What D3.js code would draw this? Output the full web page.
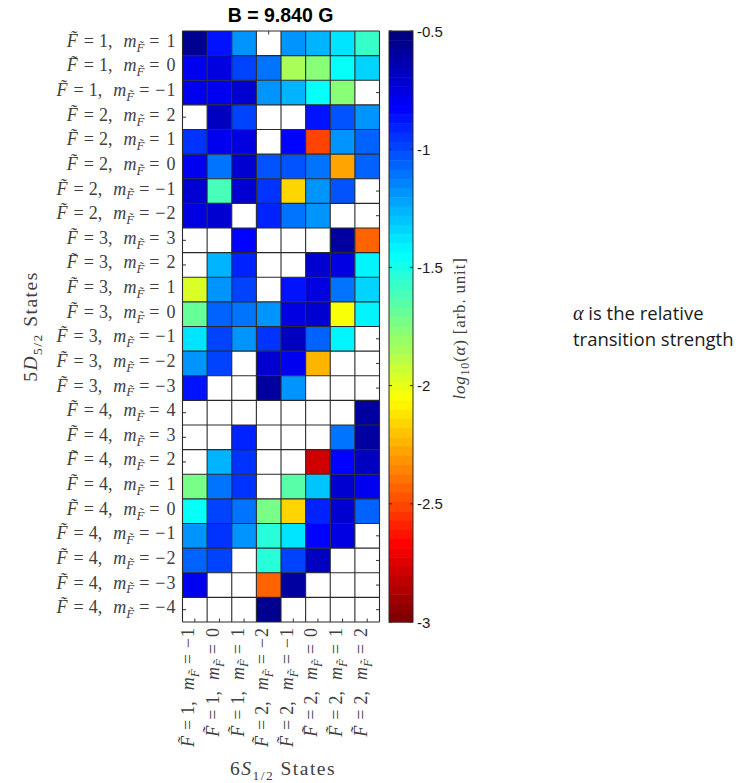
<!DOCTYPE html>
<html>
<head>
<meta charset="utf-8">
<script src="https://cdn.jsdelivr.net/npm/d3@7"></script>
<style>
  html, body { margin: 0; padding: 0; background: #fff; }
  svg { display: block; }
</style>
</head>
<body>
<svg id="chart" width="753" height="783"></svg>
<script>
// 5D5/2 (rows) and 6S1/2 (columns) hyperfine states as [F, mF]
const rowStates = [
  [1, 1], [1, 0], [1, -1],
  [2, 2], [2, 1], [2, 0], [2, -1], [2, -2],
  [3, 3], [3, 2], [3, 1], [3, 0], [3, -1], [3, -2], [3, -3],
  [4, 4], [4, 3], [4, 2], [4, 1], [4, 0], [4, -1], [4, -2], [4, -3], [4, -4]
];
const colStates = [[1, -1], [1, 0], [1, 1], [2, -2], [2, -1], [2, 0], [2, 1], [2, 2]];

// log10 of relative transition strength; null = forbidden transition (blank cell)
const log10Alpha = [
  [-0.55, -0.88, -1.20, null, -1.20, -1.27, -1.37, -1.58],
  [-0.78, -0.75, -1.00, -1.12, -1.85, -1.75, -1.44, -1.35],
  [-0.80, -0.78, -0.72, -1.18, -1.25, -1.44, -1.75, null],
  [null, -0.66, -1.00, null, null, -0.87, -1.03, -1.20],
  [-0.93, -0.78, -0.75, null, -0.84, -2.53, -1.18, -1.06],
  [-0.78, -1.12, -0.72, -1.03, -1.03, -1.12, -2.28, -1.06],
  [-0.72, -1.60, -0.72, -0.93, -2.15, -1.18, -1.03, null],
  [-0.75, -0.72, null, -0.90, -1.09, -1.20, null, null],
  [null, null, -0.84, null, null, null, -0.60, -2.44],
  [null, -1.28, -0.90, null, null, -0.72, -0.75, -1.41],
  [-1.97, -1.18, -0.97, null, -0.87, -0.75, -1.09, -1.35],
  [-1.70, -1.06, -1.09, -1.20, -0.75, -0.72, -2.05, -1.41],
  [-1.37, -1.00, -1.18, -0.93, -0.69, -1.06, -1.41, null],
  [-1.18, -1.00, null, -0.72, -0.78, -2.22, null, null],
  [-0.87, null, null, -0.60, -1.18, null, null, null],
  [null, null, null, null, null, null, null, -0.58],
  [null, null, -0.90, null, null, null, -1.12, -0.60],
  [null, -1.28, -0.93, null, null, -2.78, -0.84, -0.66],
  [-1.72, -1.09, -0.93, null, -1.66, -1.30, -0.72, -0.78],
  [-1.44, -1.00, -1.09, -1.72, -2.15, -0.90, -0.72, -1.06],
  [-1.18, -0.93, -1.18, -1.55, -1.37, -0.84, -0.75, null],
  [-1.06, -0.97, null, -1.55, -0.97, -0.66, null, null],
  [-0.78, null, null, -2.44, -0.60, null, null, null],
  [null, null, null, -0.55, null, null, null, null]
];

const colorDomain = [-0.5, -3];
const colorTicks = [-0.5, -1, -1.5, -2, -2.5, -3];
const titleText = "B = 9.840 G";
const noteLines = ["α is the relative", "transition strength"];

// ---- layout ----
const plot = { left: 182.5, right: 379.5, top: 31, bottom: 622 };
const cbar = { left: 389, right: 413 };
const serif = "'Liberation Serif', 'DejaVu Serif', serif";
const sans = "'Liberation Sans', Arial, sans-serif";
const midY = (plot.top + plot.bottom) / 2;

const svg = d3.select("#chart");

const x = d3.scaleBand().domain(d3.range(colStates.length)).range([plot.left, plot.right]).padding(0);
const y = d3.scaleBand().domain(d3.range(rowStates.length)).range([plot.top, plot.bottom]).padding(0);

// 64-level jet colormap, dark blue at -0.5 and dark red at -3
const nLevels = 64;
function jet(s) {
  const c = v => Math.max(0, Math.min(1, v));
  const r = c(1.5 - Math.abs(4 * s - 3));
  const g = c(1.5 - Math.abs(4 * s - 2));
  const b = c(1.5 - Math.abs(4 * s - 1));
  return d3.rgb(r * 255, g * 255, b * 255).formatHex();
}
const sScale = d3.scaleLinear().domain(colorDomain).range([0, 1]).clamp(true);
const color = v => {
  const idx = Math.min(nLevels - 1, Math.floor(sScale(v) * nLevels));
  return jet(idx / (nLevels - 1));
};

// ---- inward tick marks (drawn beneath the cells) ----
const tickLen = 3.5;
const ticks = svg.append("g").attr("stroke", "#333").attr("stroke-width", 1);
rowStates.forEach((_, i) => {
  const cy = y(i) + y.bandwidth() / 2;
  ticks.append("line").attr("x1", plot.left).attr("x2", plot.left + tickLen).attr("y1", cy).attr("y2", cy);
  ticks.append("line").attr("x1", plot.right - tickLen).attr("x2", plot.right).attr("y1", cy).attr("y2", cy);
});
colStates.forEach((_, j) => {
  const cx = x(j) + x.bandwidth() / 2;
  ticks.append("line").attr("x1", cx).attr("x2", cx).attr("y1", plot.top).attr("y2", plot.top + tickLen);
  ticks.append("line").attr("x1", cx).attr("x2", cx).attr("y1", plot.bottom - tickLen).attr("y2", plot.bottom);
});

// ---- cells ----
const cells = [];
log10Alpha.forEach((row, i) => row.forEach((v, j) => { if (v !== null) cells.push({ i, j, v }); }));
svg.append("g").selectAll("rect").data(cells).join("rect")
  .attr("x", d => x(d.j))
  .attr("y", d => y(d.i))
  .attr("width", x.bandwidth())
  .attr("height", y.bandwidth())
  .attr("fill", d => color(d.v));

// ---- cell grid ----
const grid = svg.append("g").attr("stroke", "#2a2a2a").attr("stroke-width", 1.1).attr("fill", "none");
d3.range(colStates.length + 1).forEach(j => {
  const gx = plot.left + j * x.bandwidth();
  grid.append("line").attr("x1", gx).attr("x2", gx).attr("y1", plot.top).attr("y2", plot.bottom);
});
d3.range(rowStates.length + 1).forEach(i => {
  const gy = plot.top + i * y.bandwidth();
  grid.append("line").attr("x1", plot.left).attr("x2", plot.right).attr("y1", gy).attr("y2", gy);
});

// ---- state labels: F~ = a, m_F~ = b (math-style spacing) ----
function stateLabel(sel, F, m, size) {
  const sub = size * 0.27;
  sel.append("tspan").attr("font-style", "italic").text("F\u0303");
  sel.append("tspan").attr("dx", 6).text("=");
  sel.append("tspan").attr("dx", 5).text(F + ",");
  sel.append("tspan").attr("dx", 11).attr("font-style", "italic").text("m");
  sel.append("tspan").attr("font-style", "italic").attr("font-size", size * 0.72).attr("dy", sub).text("F\u0303");
  sel.append("tspan").attr("dx", 5).attr("dy", -sub).text("=");
  if (m < 0) {
    sel.append("tspan").attr("dx", 6).text("\u2212");
    sel.append("tspan").attr("dx", 1).text(String(Math.abs(m)));
  } else {
    sel.append("tspan").attr("dx", 7).text(String(m));
  }
}

const labelSize = 18;
const labelColor = "#404040";
const yLab = svg.append("g").attr("font-family", serif).attr("font-size", labelSize).attr("fill", labelColor);
rowStates.forEach(([F, m], i) => {
  const t = yLab.append("text")
    .attr("x", 175.5)
    .attr("y", y(i) + y.bandwidth() / 2 + 3.5)
    .attr("text-anchor", "end");
  stateLabel(t, F, m, labelSize);
});

const xLab = svg.append("g").attr("font-family", serif).attr("font-size", labelSize).attr("fill", labelColor);
colStates.forEach(([F, m], j) => {
  const cx = x(j) + x.bandwidth() / 2 - 0.5;
  const t = xLab.append("text")
    .attr("transform", `translate(${cx},628) rotate(-90)`)
    .attr("text-anchor", "end");
  stateLabel(t, F, m, labelSize);
});

// ---- axis titles ----
const titleSize = 19.5;
const yTitle = svg.append("text")
  .attr("transform", `translate(37,${midY}) rotate(-90)`)
  .attr("text-anchor", "middle")
  .attr("font-family", serif).attr("font-size", titleSize).attr("letter-spacing", 1.5).attr("fill", labelColor);
yTitle.append("tspan").text("5");
yTitle.append("tspan").attr("font-style", "italic").text("D");
yTitle.append("tspan").attr("font-size", 13.5).attr("dy", 4.5).text("5/2");
yTitle.append("tspan").attr("dy", -4.5).text(" States");

const xTitle = svg.append("text")
  .attr("x", 283)
  .attr("y", 775)
  .attr("text-anchor", "middle")
  .attr("font-family", serif).attr("font-size", titleSize).attr("letter-spacing", 1.5).attr("fill", labelColor);
xTitle.append("tspan").text("6");
xTitle.append("tspan").attr("font-style", "italic").text("S");
xTitle.append("tspan").attr("font-size", 13.5).attr("dy", 4.5).text("1/2");
xTitle.append("tspan").attr("dy", -4.5).text(" States");

// ---- title ----
svg.append("text")
  .attr("x", 280.5)
  .attr("y", 22)
  .attr("text-anchor", "middle")
  .attr("font-family", sans).attr("font-weight", "bold").attr("font-size", 19.5)
  .attr("fill", "#000")
  .text(titleText);

// ---- colorbar ----
const cy = d3.scaleLinear().domain(colorDomain).range([plot.top, plot.bottom]);
const levelH = (plot.bottom - plot.top) / nLevels;
svg.append("g").selectAll("rect").data(d3.range(nLevels)).join("rect")
  .attr("x", cbar.left)
  .attr("y", k => plot.top + k * levelH)
  .attr("width", cbar.right - cbar.left)
  .attr("height", levelH + 0.5)
  .attr("fill", k => jet(k / (nLevels - 1)));
svg.append("rect")
  .attr("x", cbar.left).attr("y", plot.top)
  .attr("width", cbar.right - cbar.left).attr("height", plot.bottom - plot.top)
  .attr("fill", "none").attr("stroke", "#2a2a2a").attr("stroke-width", 1);

const cbTicks = svg.append("g");
colorTicks.forEach(v => {
  const ty = cy(v);
  cbTicks.append("line").attr("x1", cbar.right - 3).attr("x2", cbar.right).attr("y1", ty).attr("y2", ty)
    .attr("stroke", "#2a2a2a");
  cbTicks.append("line").attr("x1", cbar.left).attr("x2", cbar.left + 3).attr("y1", ty).attr("y2", ty)
    .attr("stroke", "#2a2a2a");
  cbTicks.append("text")
    .attr("x", cbar.right + 4)
    .attr("y", ty + 5.5)
    .attr("font-family", sans).attr("font-size", 15).attr("fill", "#1a1a1a")
    .text(String(v));
});

const cbTitle = svg.append("text")
  .attr("transform", `translate(465,${midY + 2}) rotate(-90)`)
  .attr("text-anchor", "middle")
  .attr("font-family", serif).attr("font-size", 17).attr("letter-spacing", 0.8).attr("fill", labelColor);
cbTitle.append("tspan").attr("font-style", "italic").text("log");
cbTitle.append("tspan").attr("font-size", 12).attr("dy", 3.5).text("10");
cbTitle.append("tspan").attr("dy", -3.5).text("(");
cbTitle.append("tspan").attr("font-style", "italic").text("α");
cbTitle.append("tspan").text(") [arb. unit]");

// ---- side note ----
const note = svg.append("text")
  .attr("font-family", "'Open Sans', 'Noto Sans', sans-serif").attr("font-size", 18.5).attr("fill", "#1a1a1a");
noteLines.forEach((line, k) => {
  const t = note.append("tspan").attr("x", 573).attr("y", 320 + k * 25.5);
  if (line.startsWith("α")) {
    t.append("tspan").attr("font-style", "italic").attr("font-family", serif).attr("font-size", 20).text("α");
    t.append("tspan").text(line.slice(1));
  } else {
    t.text(line);
  }
});
</script>
</body>
</html>
